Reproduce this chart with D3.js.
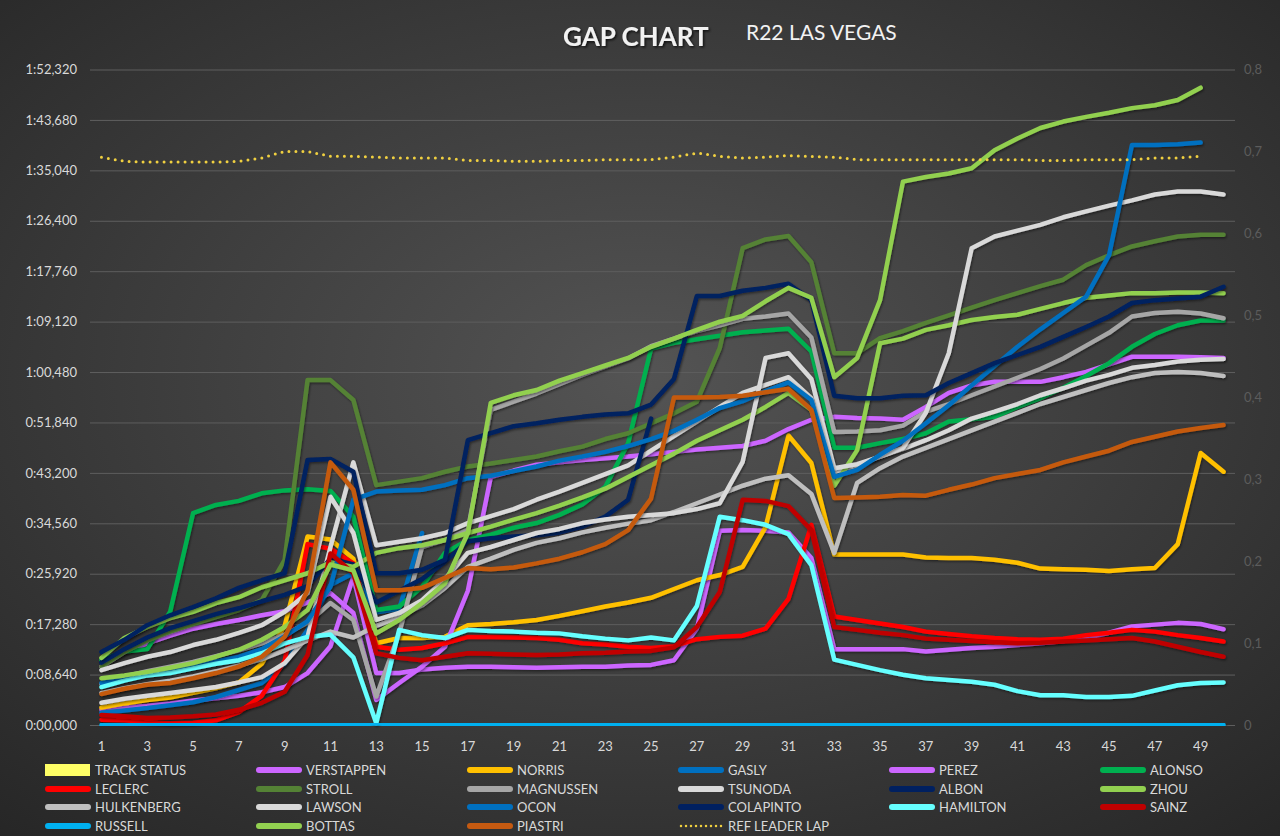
<!DOCTYPE html>
<html><head><meta charset="utf-8">
<script src="https://cdn.jsdelivr.net/npm/d3@7"></script>
<style>
html,body{margin:0;padding:0;background:#333;}
svg{display:block;font-family:Lato,"Open Sans",sans-serif;}
</style>
</head><body>
<svg id="chart" width="1280" height="836"></svg>
<script>
// ---------- DATA ----------
const laps = [1,2,3,4,5,6,7,8,9,10,11,12,13,14,15,16,17,18,19,20,21,22,23,24,25,26,27,28,29,30,31,32,33,34,35,36,37,38,39,40,41,42,43,44,45,46,47,48,49,50];
const xTickLabels = [1,3,5,7,9,11,13,15,17,19,21,23,25,27,29,31,33,35,37,39,41,43,45,47,49];
const yTicks = [0,8.64,17.28,25.92,34.56,43.2,51.84,60.48,69.12,77.76,86.4,95.04,103.68,112.32];
const y2Ticks = [0,0.1,0.2,0.3,0.4,0.5,0.6,0.7,0.8];

const seriesNames = ["TRACK STATUS","VERSTAPPEN","NORRIS","GASLY","PEREZ","ALONSO","LECLERC","STROLL","MAGNUSSEN","TSUNODA","ALBON","ZHOU","HULKENBERG","LAWSON","OCON","COLAPINTO","HAMILTON","SAINZ","RUSSELL","BOTTAS","PIASTRI","REF LEADER LAP"];
const seriesColors = ["#ffff66","#cc66ff","#ffc000","#0070c0","#cc66ff","#00b050","#ff0000","#548235","#a6a6a6","#d9d9d9","#002060","#92d050","#bfbfbf","#d9d9d9","#0070c0","#002060","#66ffff","#c00000","#00b0f0","#92d050","#c55a11","#f0d040"];

const TRACK_STATUS = [0,0,0,0,0,0,0,0,0,0,0,0,0,0,0,0,0,0,0,0,0,0,0,0,0,0,0,0,0,0,0,0,0,0,0,0,0,0,0,0,0,0,0,0,0,0,0,0,0,0];
const VERSTAPPEN = [2.6,3.0,3.3,3.7,4.2,4.6,5.0,5.6,6.5,8.9, 13.5,25.4,8.9,8.9,9.5,9.8,10.0,10.0,9.9,9.8, 9.9,10.0,10.0,10.2,10.3,11.1,16.5,33.3,33.4,33.3, 33.0,28.6,13.0,13.0,13.0,13.0,12.6,12.9,13.2,13.4, 13.7,14.0,14.4,14.9,15.8,16.9,17.2,17.5,17.3,16.4];
const NORRIS = [3.0,3.7,4.3,4.7,5.5,6.3,7.3,10.5,17.0,32.3, 31.8,28.5,14.0,14.9,14.9,15.1,17.1,17.3,17.6,18.0, 18.7,19.5,20.3,21.0,21.8,23.3,24.8,25.7,27.1,33.9, 49.6,44.9,29.2,29.2,29.2,29.2,28.7,28.6,28.6,28.3, 27.8,26.8,26.7,26.6,26.4,26.7,26.9,31.0,46.6,43.4];
const GASLY = [2.1,2.5,2.9,3.4,3.9,4.8,6.0,7.2,10.5,16.3, 24.0,26.0,19.3,19.9,32.9,null,null,null,null,null, null,null,null,null,null,null,null,null,null,null, null,null,null,null,null,null,null,null,null,null, null,null,null,null,null,null,null,null,null,null];
const PEREZ = [10.0,12.5,14.0,15.3,16.5,17.3,18.0,18.8,19.5,21.0, 22.6,19.2,4.3,7.2,10.0,13.4,23.0,42.5,43.6,44.6, 45.0,45.4,45.7,46.0,46.4,46.8,47.2,47.5,47.8,48.7, 50.7,52.3,52.8,52.6,52.5,52.3,54.5,56.9,58.2,58.8, 58.8,58.8,59.6,60.5,61.8,63.1,63.1,63.1,63.0,62.9];
const ALONSO = [11.1,12.6,13.0,19.4,36.3,37.7,38.4,39.7,40.2,40.4, 40.1,35.7,19.7,20.3,23.7,29.5,31.7,32.6,33.8,34.6, 36.0,37.8,40.8,48.3,64.5,65.5,66.1,66.7,67.3,67.6, 67.9,64.0,47.5,47.5,48.3,49.0,50.0,52.0,52.4,52.8, 54.5,56.0,57.8,59.8,62.0,64.8,67.0,68.5,69.3,69.3];
const LECLERC = [0.9,0.8,0.5,0.3,0.4,0.8,2.2,5.0,11.0,31.0, 30.2,27.7,13.4,12.9,13.2,14.0,15.1,15.1,15.0,14.9, 14.6,14.0,13.8,13.4,13.2,13.5,14.7,15.1,15.3,16.5, 21.6,34.3,18.6,18.0,17.4,16.8,16.0,15.6,15.2,14.9, 14.7,14.6,14.8,15.4,15.8,16.3,16.0,15.4,14.9,14.3];
const STROLL = [10.0,12.5,14.5,16.0,17.3,18.5,19.7,21.4,28.3,59.1, 59.1,55.7,41.1,41.7,42.3,43.4,44.3,44.8,45.4,46.0, 46.9,47.7,49.0,50.0,51.7,53.4,55.4,64.6,81.7,83.2, 83.8,79.3,63.7,63.7,66.3,67.5,68.9,70.2,71.5,72.8, 74.0,75.2,76.3,78.8,80.5,82.0,82.9,83.7,84.0,84.0];
const MAGNUSSEN = [7.0,8.3,9.2,10.0,10.8,11.8,12.8,14.0,15.5,17.5, 20.9,18.0,4.9,15.7,30.5,31.7,33.5,54.0,55.4,56.8, 58.4,60.0,61.4,62.8,64.9,66.2,67.5,68.5,69.6,70.0, 70.5,66.4,50.2,50.3,50.5,51.3,53.7,55.0,56.5,58.0, 59.5,61.0,62.8,65.0,67.2,70.0,70.6,70.8,70.5,69.7];
const TSUNODA = [3.8,4.5,5.0,5.5,6.0,6.5,7.3,8.2,10.6,15.1, 30.5,45.0,30.8,31.4,32.0,32.9,34.6,35.8,37.0,38.6, 40.0,41.5,43.0,44.5,47.0,49.5,52.0,54.5,56.9,58.3, 59.6,56.0,43.4,44.5,46.0,47.3,48.8,50.5,52.5,53.7, 55.0,56.5,57.7,59.0,60.0,61.2,61.7,62.3,62.6,62.7];
const ALBON = [10.7,13.0,15.0,16.6,17.8,19.0,20.0,21.2,22.3,23.8, 28.5,27.5,21.0,23.0,25.0,28.0,31.5,32.0,32.3,32.5, 33.0,34.0,35.7,38.6,52.5,null,null,null,null,null, null,null,null,null,null,null,null,null,null,null, null,null,null,null,null,null,null,null,null,null];
const ZHOU = [11.5,14.9,16.8,18.3,19.4,20.9,21.9,23.6,24.8,26.0, 27.9,27.1,29.5,30.3,30.8,31.7,32.9,34.0,35.2,36.3, 37.6,39.0,40.5,42.5,44.5,46.5,48.7,50.5,52.3,54.5, 56.9,54.0,41.0,47.1,65.4,66.2,67.7,68.5,69.4,69.9, 70.3,71.3,72.3,73.2,73.6,74.0,74.0,74.1,74.1,74.0];
const HULKENBERG = [5.5,6.3,7.0,7.6,8.3,9.2,10.2,11.3,12.8,14.5, 16.0,15.0,17.0,18.5,20.5,23.5,27.1,28.5,30.0,31.2, 32.0,33.0,33.8,34.5,35.1,36.5,38.0,39.5,41.0,42.2, 42.8,39.6,29.5,41.5,44.0,46.0,47.5,49.0,50.5,52.0, 53.5,55.0,56.2,57.4,58.6,59.6,60.3,60.5,60.3,59.8];
const LAWSON = [9.4,10.6,11.7,12.5,13.7,14.6,15.8,17.1,19.4,22.6, 39.1,32.9,18.0,19.2,21.4,25.0,29.5,30.5,31.7,32.9, 33.6,34.6,35.2,35.7,36.0,36.3,37.0,38.0,45.1,62.9, 63.7,59.3,44.0,44.7,46.0,47.5,53.5,63.7,81.7,83.7, 84.7,85.7,87.0,88.0,89.0,89.9,90.9,91.4,91.4,90.9];
const OCON = [7.2,8.0,8.7,9.3,10.0,10.9,11.7,13.0,15.2,17.8, 23.7,38.6,40.0,40.2,40.3,41.1,42.3,42.7,43.5,44.3, 45.3,46.0,46.8,47.8,49.0,50.4,52.3,54.3,55.5,57.2, 58.7,55.7,42.5,43.7,46.3,48.7,51.7,54.8,58.2,61.5, 64.8,67.8,70.6,73.4,80.5,99.4,99.4,99.5,99.8,null];
const COLAPINTO = [12.5,14.6,17.1,18.8,20.2,21.7,23.5,24.8,26.0,45.4, 45.6,43.4,26.0,26.0,26.6,28.3,48.8,50.0,51.2,51.7, 52.3,52.8,53.2,53.4,54.9,59.3,73.5,73.5,74.4,74.9, 75.6,72.8,56.4,56.0,56.0,56.4,56.5,58.6,60.3,62.0, 63.4,64.8,66.5,68.2,70.0,72.3,72.8,73.1,73.4,75.1];
const HAMILTON = [6.5,7.6,8.5,8.9,9.7,10.5,11.1,12.3,14.0,15.1, 15.5,11.6,0.3,16.3,15.4,14.9,16.3,16.1,16.0,15.8, 15.7,15.2,14.8,14.5,15.0,14.5,20.4,35.7,35.1,34.3, 32.7,27.4,11.2,10.3,9.4,8.6,8.0,7.7,7.4,6.9, 5.8,5.1,5.1,4.8,4.8,5.0,5.9,6.8,7.2,7.3];
const SAINZ = [1.7,1.5,1.2,1.3,1.5,1.8,2.6,3.8,5.7,12.0, 29.4,26.0,12.3,11.5,11.1,11.7,12.3,12.2,12.1,12.0, 12.1,12.3,12.4,12.6,12.7,13.3,16.8,22.8,38.6,38.4, 37.5,33.4,16.8,16.3,15.8,15.4,14.8,14.6,14.4,14.2, 14.0,14.1,14.3,14.5,14.7,14.9,14.3,13.4,12.5,11.7];
const RUSSELL = [0,0,0,0,0,0,0,0,0,0, 0,0,0.3,0,0,0,0,0,0,0, 0,0,0,0,0,0,0,0,0,0, 0,0,0,0,0,0,0,0,0,0, 0,0,0,0,0,0,0,0,0,0];
const BOTTAS = [8.0,8.5,9.1,9.8,10.6,11.7,12.9,14.6,16.8,19.7, 27.5,26.5,15.7,18.0,20.9,24.3,32.9,55.2,56.5,57.4, 59.0,60.3,61.6,62.9,64.8,66.2,67.7,69.1,70.1,72.6, 74.9,73.2,59.6,62.9,72.8,93.1,93.9,94.5,95.4,98.5, 100.5,102.3,103.4,104.2,104.9,105.7,106.2,107.1,109.2,null];
const PIASTRI = [5.3,6.2,6.9,7.2,8.0,8.9,10.0,11.7,15.1,23.1, 45.0,40.3,23.1,23.1,23.5,25.2,26.9,26.7,27.0,27.7, 28.5,29.6,31.0,33.4,38.8,56.1,56.1,56.2,56.4,57.0, 57.6,54.0,38.9,39.0,39.1,39.4,39.3,40.3,41.2,42.3, 43.0,43.7,45.0,46.0,47.0,48.5,49.4,50.3,50.9,51.4];
// leader lap reference, plotted on the secondary axis
const REF_LEADER_LAP = [0.693,0.688,0.687,0.687,0.687,0.687,0.688,0.692,0.700,0.700, 0.694,0.694,0.693,0.692,0.692,0.692,0.689,0.689,0.688,0.688, 0.689,0.689,0.690,0.690,0.690,0.693,0.698,0.694,0.692,0.693, 0.695,0.694,0.693,0.690,0.690,0.690,0.690,0.690,0.690,0.690, 0.690,0.689,0.689,0.690,0.690,0.690,0.692,0.692,0.694,null];

const seriesData = [TRACK_STATUS,VERSTAPPEN,NORRIS,GASLY,PEREZ,ALONSO,LECLERC,STROLL,MAGNUSSEN,TSUNODA,ALBON,ZHOU,HULKENBERG,LAWSON,OCON,COLAPINTO,HAMILTON,SAINZ,RUSSELL,BOTTAS,PIASTRI,REF_LEADER_LAP];

// ---------- CHART ----------
(function(){
const svg = d3.select("#chart");
const W = 1280, H = 836;
const defs = svg.append("defs");
const bg = defs.append("radialGradient").attr("id","bg").attr("cx","50%").attr("cy","45%").attr("r","75%");
bg.append("stop").attr("offset","0%").attr("stop-color","#545454");
bg.append("stop").attr("offset","100%").attr("stop-color","#262626");
const sh = defs.append("filter").attr("id","shadow").attr("x","-5%").attr("y","-5%").attr("width","110%").attr("height","110%");
sh.append("feDropShadow").attr("dx",1).attr("dy",1.5).attr("stdDeviation",1.2).attr("flood-color","#000").attr("flood-opacity",0.45);
const tsh = defs.append("filter").attr("id","tshadow");
tsh.append("feDropShadow").attr("dx",1.5).attr("dy",1.5).attr("stdDeviation",1).attr("flood-color","#000").attr("flood-opacity",0.7);

svg.append("rect").attr("width",W).attr("height",H).attr("fill","url(#bg)");

const pL = 90, pR = 1235, pT = 69.5, pB = 725;
const x = d3.scaleBand().domain(laps).range([pL,pR]);
const cx = d => x(d) + x.bandwidth()/2;
const y = d3.scaleLinear().domain([0,112.32]).range([pB,pT]);
const y2 = d3.scaleLinear().domain([0,0.8]).range([pB,pT]);

function fmtTime(s){
  const ms = Math.round(s*1000);
  const m = Math.floor(ms/60000);
  const sec = Math.floor((ms%60000)/1000);
  const frac = ms%1000;
  return m + ":" + String(sec).padStart(2,"0") + "," + String(frac).padStart(3,"0");
}
const FF = "Lato,'Open Sans',sans-serif";

const gY = svg.append("g").attr("transform",`translate(${pL},0)`)
  .call(d3.axisLeft(y).tickValues(yTicks).tickFormat(fmtTime).tickSize(-(pR-pL)).tickPadding(13));
gY.select(".domain").remove();
gY.selectAll(".tick line").attr("stroke","#5e5e5e").attr("stroke-width",1);
gY.selectAll(".tick text").attr("fill","#d9d9d9").attr("font-size",13).attr("font-family",FF);

const gY2 = svg.append("g").attr("transform",`translate(${pR},0)`)
  .call(d3.axisRight(y2).tickValues(y2Ticks).tickFormat(d => d===0 ? "0" : d3.format(".1f")(d).replace(".",",")).tickSize(0).tickPadding(9));
gY2.select(".domain").remove();
gY2.selectAll(".tick text").attr("fill","#5c5c5c").attr("font-size",13).attr("font-family",FF);

const gX = svg.append("g").attr("transform",`translate(0,${pB})`)
  .call(d3.axisBottom(x).tickValues(xTickLabels).tickSize(0).tickPadding(17));
gX.select(".domain").remove();
gX.selectAll(".tick text").attr("fill","#d9d9d9").attr("font-size",13).attr("font-family",FF);

svg.append("g").selectAll("rect").data(laps.map((l,i)=>({l,v:TRACK_STATUS[i]})))
  .join("rect").attr("x",d=>x(d.l)).attr("width",x.bandwidth())
  .attr("y",d=>y2(d.v)).attr("height",d=>pB-y2(d.v)).attr("fill",seriesColors[0]).attr("opacity",0.6);

const line = d3.line().defined(d => d.v !== null && d.v !== undefined).x(d => cx(d.l)).y(d => y(d.v));
const gLines = svg.append("g");
for (let s = 1; s < seriesNames.length - 1; s++) {
  const pts = laps.map((l,i) => ({l, v: seriesData[s][i]}));
  gLines.append("path").datum(pts).attr("d", line)
    .attr("fill","none").attr("stroke",seriesColors[s]).attr("stroke-width",4.5)
    .attr("stroke-linejoin","round").attr("stroke-linecap","round")
    .attr("filter","url(#shadow)");
}
const line2 = d3.line().defined(d => d.v !== null).x(d => cx(d.l)).y(d => y2(d.v));
svg.append("path").datum(laps.map((l,i)=>({l,v:REF_LEADER_LAP[i]}))).attr("d",line2)
  .attr("fill","none").attr("stroke",seriesColors[21]).attr("stroke-width",3)
  .attr("stroke-linecap","round").attr("stroke-dasharray","0 7");

svg.append("text").attr("x",563).attr("y",46).text("GAP CHART")
  .attr("fill","#f2f2f2").attr("font-size",26).attr("font-weight","bold").attr("filter","url(#tshadow)")
  .attr("font-family",FF);
svg.append("text").attr("x",746).attr("y",40).text("R22 LAS VEGAS")
  .attr("fill","#f2f2f2").attr("font-size",21).attr("font-family",FF);

const legend = svg.append("g");
const colX = [45,256,467,678,889,1100];
const rowY = [770,789,807,826];
seriesNames.forEach((name,i) => {
  const c = i % 6, r = Math.floor(i / 6);
  const gx = colX[c], gy = rowY[r];
  const g = legend.append("g");
  if (i === 0) {
    g.append("rect").attr("x",gx).attr("y",gy-6).attr("width",45).attr("height",12).attr("fill",seriesColors[i]);
  } else if (i === seriesNames.length-1) {
    g.append("line").attr("x1",gx+3).attr("x2",gx+44).attr("y1",gy).attr("y2",gy)
      .attr("stroke",seriesColors[i]).attr("stroke-width",2.5).attr("stroke-linecap","round").attr("stroke-dasharray","0 5");
  } else {
    g.append("line").attr("x1",gx+3).attr("x2",gx+43).attr("y1",gy).attr("y2",gy)
      .attr("stroke",seriesColors[i]).attr("stroke-width",6).attr("stroke-linecap","round");
  }
  g.append("text").attr("x",gx+50).attr("y",gy+4.5).text(name)
    .attr("fill","#d9d9d9").attr("font-size",13).attr("font-family",FF);
});
})();
</script>
</body></html>
